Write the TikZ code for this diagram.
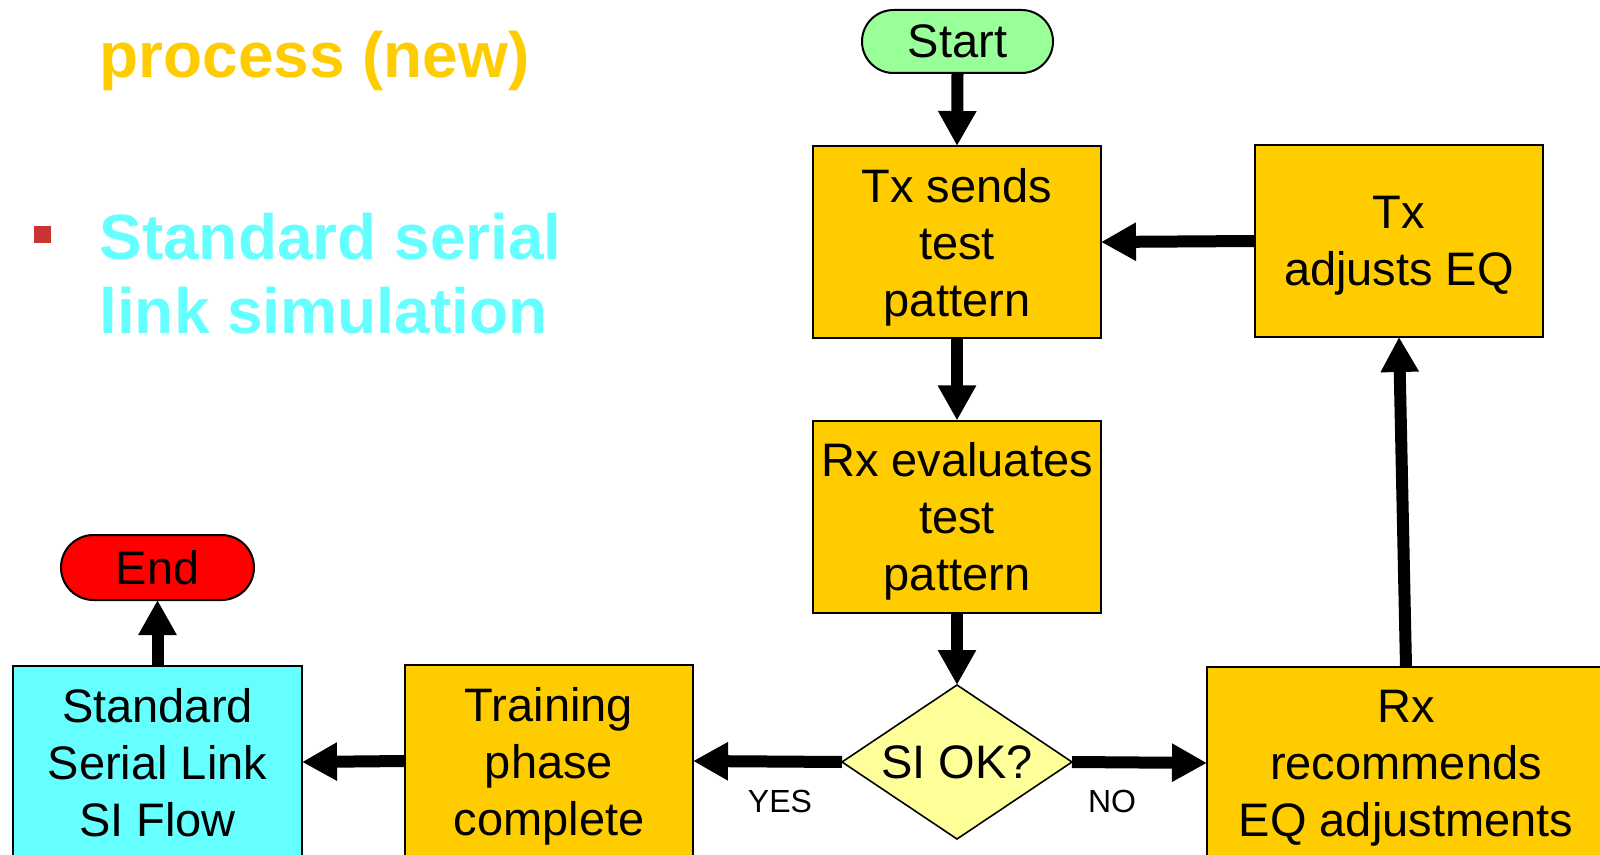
\documentclass[tikz,border=0pt]{standalone}
\usepackage{fontspec}
\setmainfont{Liberation Sans}
\usetikzlibrary{arrows.meta,shapes.geometric}
\definecolor{gold}{HTML}{FFCC00}
\definecolor{paleyellow}{HTML}{FFFF99}
\definecolor{startgreen}{HTML}{99FF99}
\definecolor{endred}{HTML}{FF0000}
\definecolor{lightcyan}{HTML}{66FFFF}
\definecolor{bulletred}{HTML}{CC3333}
\begin{document}
\begin{tikzpicture}[x=0.5pt,y=-0.5pt,
  boxtext/.style={font=\fontsize{23.5pt}{28.5pt}\selectfont,align=center},
  stepbox/.style={boxtext,text depth=0pt,draw=black,line width=1pt,fill=gold,minimum width=144pt,minimum height=96pt,inner sep=0pt,outer sep=0pt},
  pill/.style={boxtext,draw=black,line width=1pt,rounded corners=15.75pt,minimum width=95.5pt,minimum height=31.5pt,inner sep=0pt,outer sep=0pt},
  decision/.style={boxtext,diamond,draw=black,line width=0.8pt,fill=paleyellow,shape aspect=1.49,minimum width=115pt,minimum height=77pt,inner sep=0pt,outer sep=0pt},
  flow/.style={line width=6pt,-{Triangle[length=17.5pt,width=18pt]}},
  answer/.style={font=\fontsize{16pt}{19pt}\selectfont,inner sep=0pt,anchor=base},
  title/.style={font=\fontsize{32pt}{37pt}\selectfont\bfseries,inner sep=0pt,align=left,anchor=base west}
]
\useasboundingbox (0,0) rectangle (1600,855);
\clip (0,0) rectangle (1600,855);
\fill[white] (0,0) rectangle (1600,855);

% left text
\node[title,text=gold] (t1) at (99,78) {process (new)};
\node[title,text=lightcyan] (t2) at (99,334) {Standard serial\\link simulation};
\node[fill=bulletred,minimum size=8.5pt,inner sep=0pt] (bullet) at (42.5,234.5) {};

% flow nodes
\node[pill,fill=startgreen] (start) at (957.5,41.5) {Start};
\node[stepbox] (txsend) at (957,242) {Tx sends\\test\\pattern};
\node[stepbox] (txadj) at (1399,241) {Tx\\adjusts EQ};
\node[stepbox] (rxeval) at (957,516.5) {Rx evaluates\\test\\pattern};
\node[decision] (dec) at (957,762) {SI OK?};
\node[stepbox,minimum width=199pt] (rxrec) at (1406,763) {Rx\\recommends\\EQ adjustments};
\node[stepbox] (train) at (549,761) {Training\\phase\\complete};
\node[stepbox,fill=lightcyan,minimum width=144.5pt] (std) at (157.5,762) {Standard\\Serial Link\\SI Flow};
\node[pill,fill=endred,minimum width=96.5pt,minimum height=32.5pt,rounded corners=16.25pt] (end) at (157.5,567.5) {End};

% labels
\node[answer] (yes) at (780,812) {YES};
\node[answer] (no) at (1112,812) {NO};

% connectors
\draw[flow] (start.south) -- (txsend.north);
\draw[flow] (txsend.south) -- (rxeval.north);
\draw[flow] (rxeval.south) -- (dec.north);
\draw[flow] (dec.west) -- (train.east);
\draw[flow] (dec.east) -- (rxrec.west);
\draw[flow] (rxrec.north) -- (txadj.south);
\draw[flow] (txadj.west) -- (txsend.east);
\draw[flow] (train.west) -- (std.east);
\draw[flow] (std.north) -- (end.south);
\end{tikzpicture}
\end{document}
